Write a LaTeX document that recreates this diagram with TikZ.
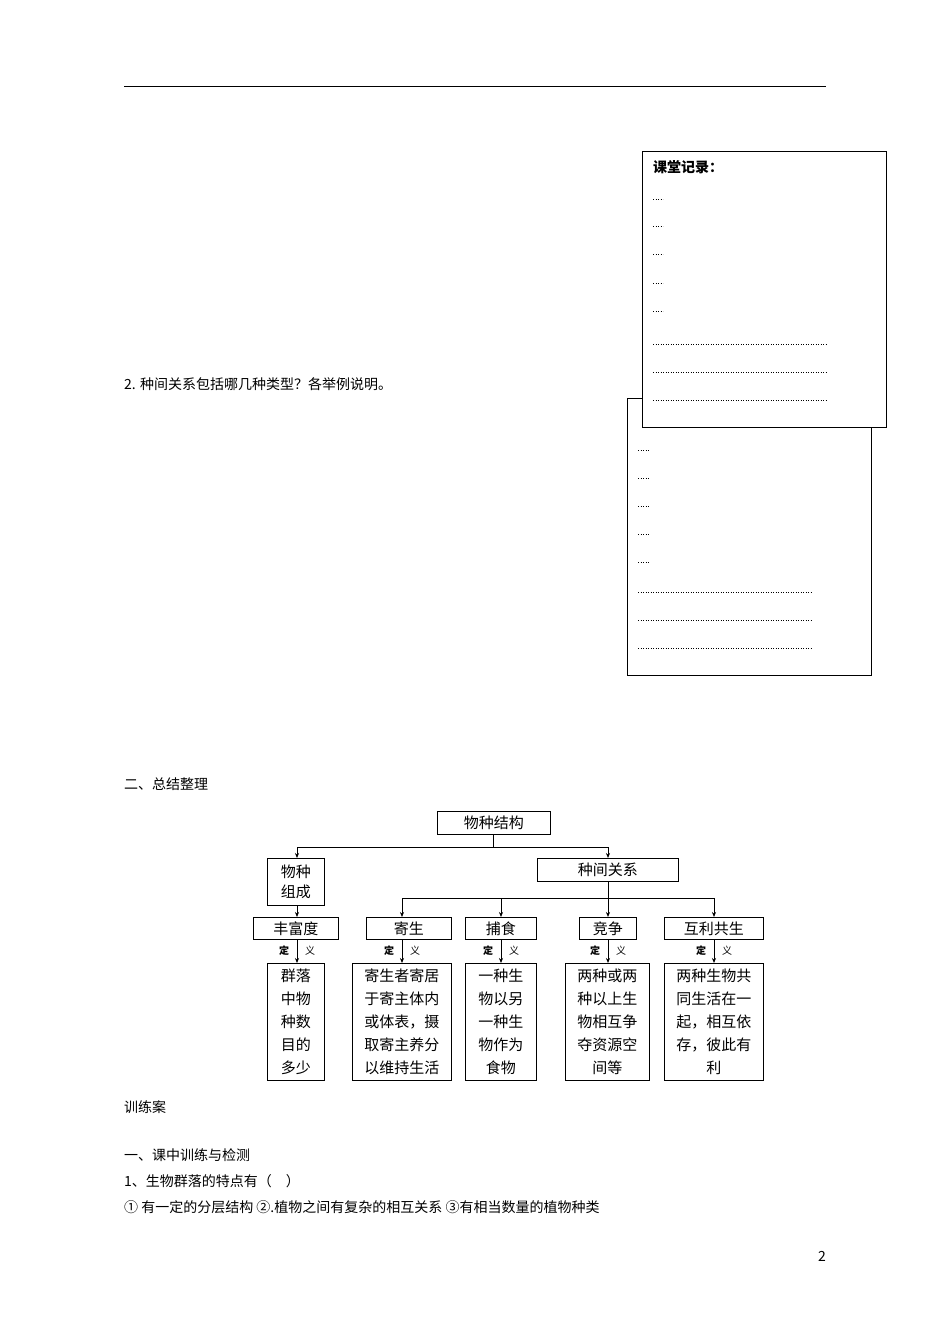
\documentclass[tikz,border=0pt]{standalone}
\usepackage{fontspec}
\setmainfont{Liberation Serif}
\newfontfamily\cjk{Noto Sans CJK SC}
\usetikzlibrary{arrows.meta}
\begin{document}
\begin{tikzpicture}[x=1pt,y=-1pt,
  bx/.style={draw,line width=0.8pt,inner sep=0pt,anchor=north west},
  arr/.style={-{Stealth[length=5pt,width=4pt]},line width=0.7pt},
  ln/.style={line width=0.7pt},
  txt/.style={anchor=west,inner sep=0pt,font=\cjk\fontsize{14}{16}\selectfont},
  dt/.style={dotted,line width=0.5pt},
  lab/.style={font=\cjk\fontsize{15}{23}\selectfont,align=center}]
\useasboundingbox (0,0) rectangle (950,1344);
\draw[line width=0.8pt] (124,86) -- (826,86);
% back note
\draw[line width=0.8pt,fill=white] (627,398) rectangle (871,675);
\foreach \y in {450,478,506,534,562} \draw[dt] (638,\y) -- (649,\y);
\foreach \y in {592,620,648} \draw[dt] (638,\y) -- (811,\y);
% front note
\draw[line width=0.8pt,fill=white] (642,151) rectangle (886,427);
\node[txt,font=\cjk\bfseries\fontsize{14}{16}\selectfont] (ktjl) at (653,167) {课堂记录：};
\foreach \y in {199,226,254,283,311} \draw[dt] (653,\y) -- (663,\y);
\foreach \y in {344,372,400} \draw[dt] (653,\y) -- (826,\y);
% texts
\node[txt] (q2) at (124,384) {2. 种间关系包括哪几种类型？各举例说明。};
\node[txt] (s2) at (124,784) {二、总结整理};
\node[txt] (xla) at (124,1107) {训练案};
\node[txt] (s1) at (124,1155) {一、课中训练与检测};
\node[txt] (q1) at (124,1181) {1、生物群落的特点有（\quad ）};
\node[txt] (opts) at (124,1207) {① 有一定的分层结构 ②.植物之间有复杂的相互关系 ③有相当数量的植物种类};
\node[txt] (pg) at (818,1256) {2};
% diagram
\newcommand{\bxn}[6]{\node[bx,minimum width=#4-#2,minimum height=#5-#3,lab] (#1) at (#2,#3) {#6};}
\bxn{top}{437}{811}{550}{834}{物种结构}
\bxn{zc}{267}{858}{324}{905}{物种\\[-3pt]组成}
\bxn{jg}{537}{858}{678}{881}{种间关系}
\bxn{ffd}{253}{917}{338}{939}{丰富度}
\bxn{js}{366}{917}{451}{939}{寄生}
\bxn{bs}{465}{917}{536}{939}{捕食}
\bxn{jz}{579}{917}{636}{939}{竞争}
\bxn{hl}{664}{917}{763}{939}{互利共生}
\bxn{d1}{267}{963}{324}{1080}{群落\\中物\\种数\\目的\\多少}
\bxn{d2}{352}{963}{451}{1080}{寄生者寄居\\于寄主体内\\或体表，摄\\取寄主养分\\以维持生活}
\bxn{d3}{465}{963}{536}{1080}{一种生\\物以另\\一种生\\物作为\\食物}
\bxn{d4}{565}{963}{649}{1080}{两种或两\\种以上生\\物相互争\\夺资源空\\间等}
\bxn{d5}{664}{963}{763}{1080}{两种生物共\\同生活在一\\起，相互依\\存，彼此有\\利}
\coordinate (b1) at (493,847);
\draw[ln] (b1 |- top.south) -- (b1);
\draw[ln] (297,847) -- (608,847);
\draw[arr] (297,847) -- (297,858);
\draw[arr] (608,847) -- (608,858);
\draw[arr] (297,905) -- (297,917);
\draw[ln] (608,881) -- (608,898);
\draw[ln] (402,898) -- (714,898);
\foreach \x/\n in {402/js,501/bs,608/jz,714/hl} \draw[arr] (\x,898) -- (\x,917);
\foreach \a/\b/\x in {ffd/d1/297,js/d2/402,bs/d3/501,jz/d4/608,hl/d5/714}{
  \draw[arr] (\x,939) -- (\x,963);
  \node[font=\cjk\bfseries\fontsize{10}{10}\selectfont,inner sep=0pt] at (\x-13,951) {定};
  \node[font=\cjk\fontsize{10}{10}\selectfont,inner sep=0pt] at (\x+13,951) {义};
}
\end{tikzpicture}
\end{document}
